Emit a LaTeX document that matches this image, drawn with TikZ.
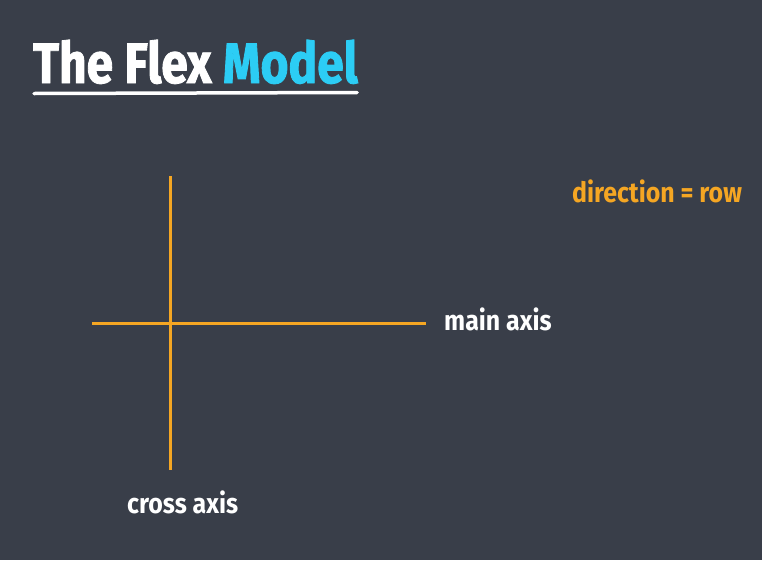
\documentclass[tikz,border=0pt]{standalone}
\usepackage{fontspec}
\setmainfont{Fira Sans}[FakeStretch=0.89]
\newfontfamily\titlefont{Fira Sans}[FakeStretch=0.84,FakeBold=1.5]
\begin{document}
\begin{tikzpicture}[x=1pt,y=-1pt,
  axisline/.style={draw=axisorange,line width=3pt},
  lbl/.style={anchor=base west,inner sep=0pt,text=white,font=\fontsize{28}{30}\selectfont\bfseries},
  ttl/.style={anchor=base west,inner sep=0pt,font=\titlefont\fontsize{57}{60}\selectfont\bfseries}]
\definecolor{bg}{HTML}{393E49}
\definecolor{axisorange}{HTML}{F5A623}
\definecolor{titlecyan}{HTML}{2CCDF5}
\useasboundingbox[fill=bg] (0,0) rectangle (762,560);
\node[ttl] (title) at (33,83) {\textcolor{white}{The Flex} \textcolor{titlecyan}{Model}};
\coordinate (ulA) at (34,93.5);
\coordinate (ulB) at (357,92.5);
\draw[white,line width=3.5pt,line cap=round] (ulA) -- (ulB);
\coordinate (hA) at (92,323);
\coordinate (hB) at (426,323);
\coordinate (vA) at (170,176);
\coordinate (vB) at (170,470);
\draw[axisline] (hA) -- (hB);
\draw[axisline] (vA) -- (vB);
\node[lbl] (main) at (444,330) {main axis};
\node[lbl] (cross) at (127,513) {cross axis};
\node[lbl,text=axisorange] (dir) at (572,202) {direction = row};
\end{tikzpicture}
\end{document}
